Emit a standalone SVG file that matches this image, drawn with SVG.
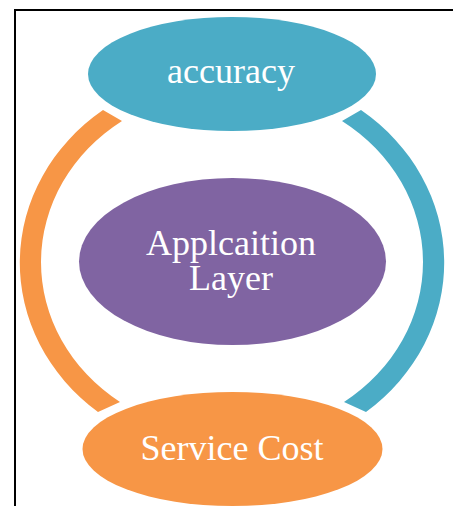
<svg xmlns="http://www.w3.org/2000/svg" width="453" height="506" viewBox="0 0 453 506">
  <style>
    .label { font-family: "Liberation Serif", "Times New Roman", serif; font-size: 36px; fill: #ffffff; text-anchor: middle; }
    .frame { stroke: #000000; stroke-width: 2; fill: none; }
  </style>
  <rect width="453" height="506" fill="#ffffff"/>
  <!-- frame edges -->
  <path class="frame" d="M15,9 V506 M14,10 H453"/>

  <!-- cycle arcs -->
  <g id="connectors">
    <path id="arc-cost-accuracy" fill="#F79646"
          d="M103,110 A209.5,191.5 0 0 0 98,412 L120,402 A190.5,172.5 0 0 1 122,121 Z"/>
    <path id="arc-accuracy-cost" fill="#4BACC6"
          d="M361,110 A209.5,191.5 0 0 1 366,412 L344,402 A190.5,172.5 0 0 0 342,121 Z"/>
  </g>

  <g id="node-accuracy">
    <ellipse cx="232" cy="74" rx="144" ry="57" fill="#4BACC6"/>
    <text class="label" x="231" y="83">accuracy</text>
  </g>

  <g id="node-application-layer">
    <ellipse cx="232.5" cy="261.5" rx="153.5" ry="83.5" fill="#8064A2"/>
    <text class="label" x="231" y="255">Applcaition</text>
    <text class="label" x="231" y="290">Layer</text>
  </g>

  <g id="node-service-cost">
    <ellipse cx="232.5" cy="449" rx="150" ry="57" fill="#F79646"/>
    <text class="label" x="232" y="460">Service Cost</text>
  </g>
</svg>
